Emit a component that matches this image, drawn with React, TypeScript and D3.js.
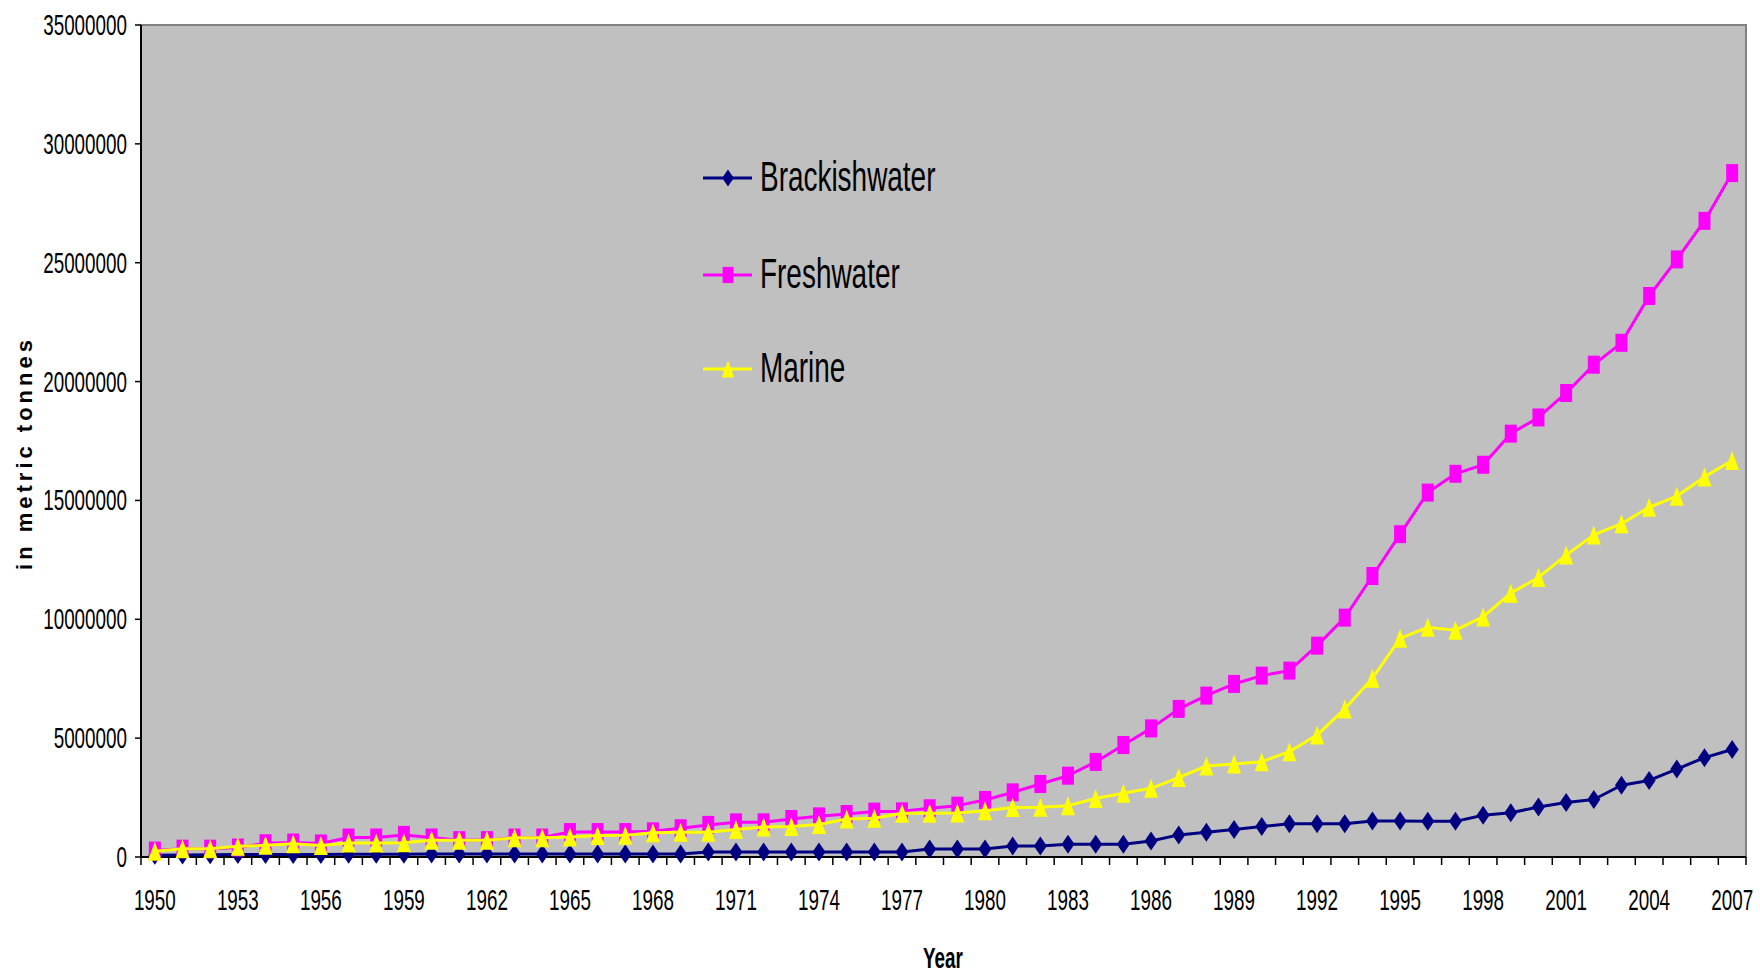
import { line, scaleBand, scaleLinear } from "d3";
import { FC } from "react";

const years: string[] = [
  "1950", "1951", "1952", "1953", "1954", "1955", "1956", "1957", "1958", "1959",
  "1960", "1961", "1962", "1963", "1964", "1965", "1966", "1967", "1968", "1969",
  "1970", "1971", "1972", "1973", "1974", "1975", "1976", "1977", "1978", "1979",
  "1980", "1981", "1982", "1983", "1984", "1985", "1986", "1987", "1988", "1989",
  "1990", "1991", "1992", "1993", "1994", "1995", "1996", "1997", "1998", "1999",
  "2000", "2001", "2002", "2003", "2004", "2005", "2006", "2007"
];

// values in million tonnes
const brackishwater = [
  0.07, 0.08, 0.09, 0.1, 0.1, 0.11, 0.11, 0.12, 0.12, 0.12,
  0.13, 0.13, 0.13, 0.13, 0.13, 0.13, 0.13, 0.13, 0.13, 0.13,
  0.21, 0.21, 0.21, 0.21, 0.21, 0.21, 0.21, 0.21, 0.34, 0.34,
  0.34, 0.46, 0.46, 0.54, 0.54, 0.54, 0.67, 0.93, 1.04, 1.16,
  1.28, 1.4, 1.4, 1.4, 1.51, 1.51, 1.5, 1.5, 1.76, 1.86,
  2.1, 2.29, 2.42, 3.02, 3.22, 3.7, 4.18, 4.52
];

const freshwater = [
  0.27, 0.35, 0.35, 0.4, 0.58, 0.61, 0.57, 0.82, 0.82, 0.93,
  0.82, 0.71, 0.71, 0.82, 0.82, 1.05, 1.05, 1.05, 1.08, 1.21,
  1.35, 1.46, 1.46, 1.6, 1.71, 1.81, 1.91, 1.92, 2.05, 2.16,
  2.4, 2.72, 3.07, 3.42, 4.0, 4.71, 5.41, 6.23, 6.79, 7.28,
  7.63, 7.84, 8.89, 10.07, 11.82, 13.58, 15.33, 16.12, 16.5, 17.81,
  18.49, 19.52, 20.71, 21.63, 23.6, 25.14, 26.76, 28.77
];

const marine = [
  0.24, 0.35, 0.35, 0.45, 0.49, 0.56, 0.48, 0.59, 0.59, 0.6,
  0.7, 0.7, 0.7, 0.81, 0.81, 0.84, 0.9, 0.91, 1.02, 1.04,
  1.04, 1.16, 1.26, 1.28, 1.37, 1.6, 1.63, 1.84, 1.84, 1.85,
  1.95, 2.08, 2.09, 2.16, 2.46, 2.68, 2.89, 3.34, 3.83, 3.91,
  4.01, 4.43, 5.13, 6.23, 7.52, 9.2, 9.66, 9.54, 10.1, 11.1,
  11.76, 12.7, 13.55, 14.02, 14.71, 15.18, 15.99, 16.68
];

const yTicks = [0, 5000000, 10000000, 15000000, 20000000, 25000000, 30000000, 35000000];
const xTickLabels = [
  "1950", "1953", "1956", "1959", "1962", "1965", "1968", "1971", "1974", "1977",
  "1980", "1983", "1986", "1989", "1992", "1995", "1998", "2001", "2004", "2007"
];

const WIDTH = 1760;
const HEIGHT = 974;
const left = 141;
const right = 1746;
const top = 25;
const bottom = 857;
const SQ = 0.65; // horizontal squeeze of all the text
const FONT = "'Liberation Sans', Arial, sans-serif";

type Shape = "diamond" | "square" | "triangle";

const markerPath = (shape: Shape, cx: number, cy: number, s = 1) => {
  if (shape === "diamond") {
    const w = 6.5 * s, h = 9.5 * s;
    return `M${cx},${cy - h}L${cx + w},${cy}L${cx},${cy + h}L${cx - w},${cy}Z`;
  }
  if (shape === "square") {
    const w = 6 * s, h = 9 * s;
    return `M${cx - w},${cy - h}H${cx + w}V${cy + h}H${cx - w}Z`;
  }
  const w = 7 * s, h = 9.5 * s;
  return `M${cx},${cy - h}L${cx + w},${cy + h}L${cx - w},${cy + h}Z`;
};

const series = [
  { name: "Brackishwater", values: brackishwater, color: "#000080", shape: "diamond" as Shape },
  { name: "Freshwater", values: freshwater, color: "#FF00FF", shape: "square" as Shape },
  { name: "Marine", values: marine, color: "#FFFF00", shape: "triangle" as Shape }
];

const SqText: FC<{
  x: number; y: number; size: number; anchor?: string; bold?: boolean; children: string;
}> = ({ x, y, size, anchor = "start", bold = false, children }) => (
  <text
    transform={`translate(${x},${y}) scale(${SQ},1)`}
    textAnchor={anchor}
    fontSize={size}
    fontWeight={bold ? "bold" : "normal"}
    fontFamily={FONT}
    fill="#000"
  >
    {children}
  </text>
);

const App: FC = () => {
  const xScale = scaleBand<string>().domain(years).range([left, right]).padding(0);
  const bw = xScale.bandwidth();
  const cx = (yr: string) => xScale(yr)! + bw / 2;
  const yScale = scaleLinear().domain([0, 35000000]).range([bottom, top]);

  const path = line<number>()
    .x((_, i) => cx(years[i]))
    .y((d) => yScale(d * 1e6));

  const legendY = [178, 275, 369];

  return (
    <svg
      width={WIDTH}
      height={HEIGHT}
      style={{ position: "absolute", left: 0, top: 0, background: "#fff" }}
    >
      {/* plot area */}
      <rect x={left} y={top} width={right - left} height={bottom - top} fill="#C0C0C0" stroke="#808080" strokeWidth={2} />

      {/* y axis */}
      <line x1={left} x2={left} y1={top} y2={bottom} stroke="#000" strokeWidth={2} />
      {yTicks.map((t) => (
        <g key={t}>
          <line x1={left - 6} x2={left} y1={yScale(t)} y2={yScale(t)} stroke="#000" strokeWidth={1.5} />
          <SqText x={127} y={yScale(t) + 10} size={29} anchor="end">{String(t)}</SqText>
        </g>
      ))}

      {/* x axis */}
      <line x1={left} x2={right} y1={bottom} y2={bottom} stroke="#000" strokeWidth={2} />
      {years.map((yr) => (
        <line key={yr} x1={xScale(yr)!} x2={xScale(yr)!} y1={bottom} y2={bottom + 8} stroke="#000" strokeWidth={1.5} />
      ))}
      <line x1={right} x2={right} y1={bottom} y2={bottom + 8} stroke="#000" strokeWidth={1.5} />
      {xTickLabels.map((yr) => (
        <SqText key={yr} x={cx(yr)} y={910} size={29} anchor="middle">{yr}</SqText>
      ))}

      {/* axis titles */}
      <SqText x={943} y={968} size={29} anchor="middle" bold>Year</SqText>
      <text
        transform={`translate(32,453) rotate(-90)`}
        textAnchor="middle"
        fontSize={22}
        fontWeight="bold"
        letterSpacing={4}
        fontFamily={FONT}
      >
        in metric tonnes
      </text>

      {/* series */}
      {series.map((s) => (
        <g key={s.name}>
          <path d={path(s.values)!} fill="none" stroke={s.color} strokeWidth={3} strokeLinejoin="round" />
          {s.values.map((v, i) => (
            <path key={i} d={markerPath(s.shape, cx(years[i]), yScale(v * 1e6))} fill={s.color} />
          ))}
        </g>
      ))}

      {/* legend */}
      {series.map((s, i) => (
        <g key={s.name}>
          <line x1={703} x2={752} y1={legendY[i]} y2={legendY[i]} stroke={s.color} strokeWidth={3} />
          <path d={markerPath(s.shape, 728, legendY[i], 0.9)} fill={s.color} />
          <SqText x={760} y={legendY[i] + 12.7} size={43}>{s.name}</SqText>
        </g>
      ))}
    </svg>
  );
};

export default App;
